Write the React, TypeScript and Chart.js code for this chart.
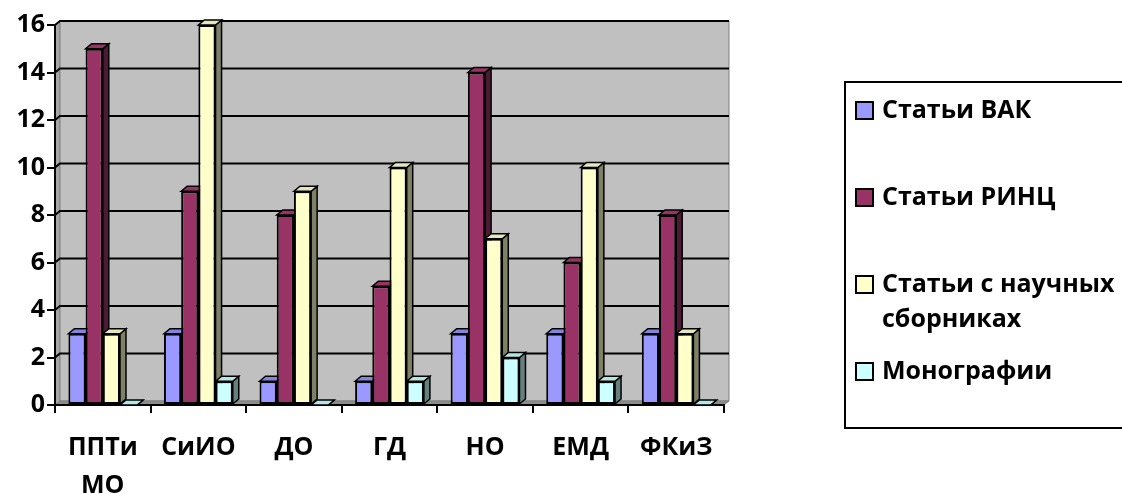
import React, { useEffect, useRef } from "react";
import { Chart, registerables } from "chart.js";

Chart.register(...registerables);

const categories: (string | string[])[] = [["ППТи", "МО"], "СиИО", "ДО", "ГД", "НО", "ЕМД", "ФКиЗ"];
const seriesNames = ["Статьи ВАК", "Статьи РИНЦ", "Статьи с научных сборниках", "Монографии"];
const vak = [3, 3, 1, 1, 3, 3, 3];
const rinc = [15, 9, 8, 5, 14, 6, 8];
const sborniki = [3, 16, 9, 10, 7, 10, 3];
const monografii = [0, 1, 0, 1, 2, 1, 0];
const yMin = 0;
const yMax = 16;
const yStep = 2;

const frontColors = ["#9999FF", "#993366", "#FFFFCC", "#CCFFFF"];
const sideColors = ["#4D4D80", "#4D1A33", "#808066", "#668080"];
const topColors = ["#8585E0", "#993366", "#E6E6B8", "#B3E6E6"];

const FONT = "'Open Sans'";
const FS = 25;

const BAR_DX = 6;
const BAR_DY = -5;
const WALL_DX = 5;
const WALL_DY = -4;

function poly(ctx: CanvasRenderingContext2D, pts: number[][], fill: string, stroke = "#000", lw = 1.5) {
  ctx.beginPath();
  ctx.moveTo(pts[0][0], pts[0][1]);
  for (let i = 1; i < pts.length; i++) ctx.lineTo(pts[i][0], pts[i][1]);
  ctx.closePath();
  ctx.fillStyle = fill;
  ctx.fill();
  if (stroke) {
    ctx.strokeStyle = stroke;
    ctx.lineWidth = lw;
    ctx.stroke();
  }
}

const threeD = {
  id: "threeD",
  beforeDraw(chart: any) {
    const { ctx, chartArea } = chart;
    const { left, right, top, bottom } = chartArea;
    ctx.save();
    poly(ctx, [[left, top], [left + WALL_DX, top + WALL_DY], [left + WALL_DX, bottom + WALL_DY], [left, bottom]], "#A6A6A6", "#808080", 1);
    poly(ctx, [[left + WALL_DX, top + WALL_DY], [right + WALL_DX, top + WALL_DY], [right + WALL_DX, bottom + WALL_DY], [left + WALL_DX, bottom + WALL_DY]], "#C0C0C0", "#808080", 1);
    poly(ctx, [[left, bottom], [left + WALL_DX, bottom + WALL_DY], [right + WALL_DX, bottom + WALL_DY], [right, bottom]], "#8C8C8C", "#808080", 1);
    const ys = chart.scales.y;
    ctx.strokeStyle = "#000";
    ctx.lineWidth = 2;
    for (let v = yMin + yStep; v <= yMax; v += yStep) {
      const py = ys.getPixelForValue(v);
      ctx.beginPath();
      ctx.moveTo(left, py);
      ctx.lineTo(left + WALL_DX, py + WALL_DY);
      ctx.lineTo(right + WALL_DX, py + WALL_DY);
      ctx.stroke();
    }
    ctx.restore();
  },
  beforeDatasetsDraw(chart: any) {
    const { ctx } = chart;
    ctx.save();
    const n = chart.data.labels.length;
    for (let i = 0; i < n; i++) {
      for (let d = 0; d < chart.data.datasets.length; d++) {
        const el: any = chart.getDatasetMeta(d).data[i];
        if (!el) continue;
        const { x, y, base, width } = el.getProps(["x", "y", "base", "width"], true);
        const l = x - width / 2;
        const r = x + width / 2;
        poly(ctx, [[r, y], [r + BAR_DX, y + BAR_DY], [r + BAR_DX, base + BAR_DY], [r, base]], sideColors[d]);
        poly(ctx, [[l, y], [l + BAR_DX, y + BAR_DY], [r + BAR_DX, y + BAR_DY], [r, y]], topColors[d]);
      }
    }
    ctx.restore();
  },
  afterDraw(chart: any) {
    const { ctx } = chart;
    ctx.save();
    ctx.strokeStyle = "#000";
    ctx.lineWidth = 2;
    ctx.strokeRect(845, 82, 300, 346);
    ctx.font = `bold ${FS}px ${FONT}`;
    ctx.textBaseline = "middle";
    ctx.textAlign = "left";
    const textX = 882;
    const maxW = 1124 - textX;
    chart.data.datasets.forEach((ds: any, i: number) => {
      const cy = 111 + i * 87;
      ctx.fillStyle = ds.backgroundColor;
      ctx.fillRect(856, cy - 9, 17, 17);
      ctx.strokeStyle = "#000";
      ctx.lineWidth = 2;
      ctx.strokeRect(856, cy - 9, 17, 17);
      const words = String(ds.label).split(" ");
      const lines: string[] = [];
      let cur = "";
      for (const w of words) {
        const t = cur ? cur + " " + w : w;
        if (ctx.measureText(t).width > maxW && cur) {
          lines.push(cur);
          cur = w;
        } else cur = t;
      }
      lines.push(cur);
      ctx.fillStyle = "#000";
      lines.forEach((ln, k) => ctx.fillText(ln, textX, cy + k * 35));
    });
    ctx.restore();
  },
};

export default function App() {
  const ref = useRef<HTMLCanvasElement>(null);
  useEffect(() => {
    const series = [vak, rinc, sborniki, monografii];
    const chart = new Chart(ref.current!, {
      type: "bar",
      data: {
        labels: categories,
        datasets: series.map((data, i) => ({
          label: seriesNames[i],
          data,
          backgroundColor: frontColors[i],
          borderColor: "#000",
          borderWidth: 2,
          borderSkipped: false,
          categoryPercentage: 0.72,
          barPercentage: 1,
        })),
      },
      options: {
        responsive: false,
        animation: false,
        devicePixelRatio: 1,
        layout: { padding: { left: 0, right: 398, top: 25, bottom: 0 } },
        plugins: { legend: { display: false }, tooltip: { enabled: false } },
        scales: {
          x: {
            grid: { offset: true, drawOnChartArea: false, tickLength: 8, color: "#000", lineWidth: 2 },
            border: { color: "#000", width: 2 },
            ticks: {
              color: "#000",
              padding: 16,
              font: { family: FONT, size: FS, weight: "bold", lineHeight: 1.52 },
              maxRotation: 0,
              autoSkip: false,
            },
            afterFit(scale: any) {
              scale.height = 89;
            },
          },
          y: {
            min: yMin,
            max: yMax,
            grid: { drawOnChartArea: false, tickLength: 8, color: "#000", lineWidth: 2 },
            border: { color: "#000", width: 2 },
            ticks: {
              stepSize: yStep,
              color: "#000",
              padding: 2,
              font: { family: FONT, size: FS, weight: "bold" },
            },
            afterFit(scale: any) {
              scale.width = 55;
            },
          },
        },
      },
      plugins: [threeD],
    });
    return () => chart.destroy();
  }, []);
  return (
    <div style={{ position: "absolute", left: 0, top: 0, width: 1122, height: 494, background: "#fff" }}>
      <canvas ref={ref} width={1122} height={494} />
    </div>
  );
}
